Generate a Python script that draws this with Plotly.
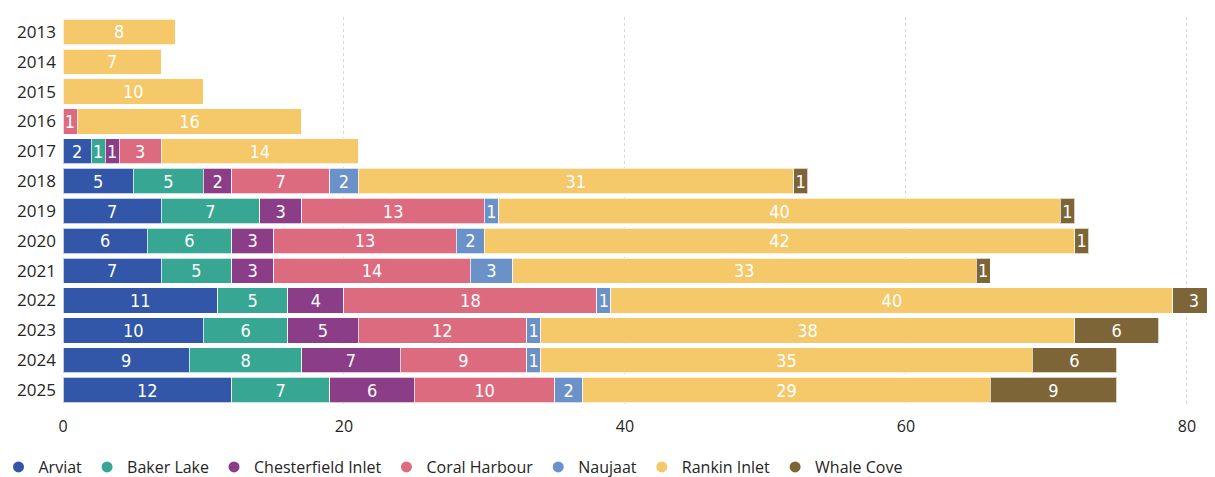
import plotly.graph_objects as go

years = ["2013", "2014", "2015", "2016", "2017", "2018", "2019", "2020", "2021", "2022", "2023", "2024", "2025"]
communities = ["Arviat", "Baker Lake", "Chesterfield Inlet", "Coral Harbour", "Naujaat", "Rankin Inlet", "Whale Cove"]
arviat       = [0, 0, 0, 0, 2, 5, 7, 6, 7, 11, 10, 9, 12]
baker_lake   = [0, 0, 0, 0, 1, 5, 7, 6, 5, 5, 6, 8, 7]
chesterfield = [0, 0, 0, 0, 1, 2, 3, 3, 3, 4, 5, 7, 6]
coral        = [0, 0, 0, 1, 3, 7, 13, 13, 14, 18, 12, 9, 10]
naujaat      = [0, 0, 0, 0, 0, 2, 1, 2, 3, 1, 1, 1, 2]
rankin       = [8, 7, 10, 16, 14, 31, 40, 42, 33, 40, 38, 35, 29]
whale_cove   = [0, 0, 0, 0, 0, 1, 1, 1, 1, 3, 6, 6, 9]
x_ticks = [0, 20, 40, 60, 80]

series = [arviat, baker_lake, chesterfield, coral, naujaat, rankin, whale_cove]
colors = ["#3256A8", "#37A794", "#8B3D88", "#DD6B7F", "#6B91C9", "#F5C869", "#7D6538"]

fig = go.Figure()
for name, vals, col in zip(communities, series, colors):
    fig.add_trace(go.Bar(
        y=years, x=vals, orientation="h", name=name,
        marker=dict(color=col, line=dict(color="rgba(255,255,255,0.7)", width=1)),
        text=[str(v) if v else "" for v in vals],
        textposition="inside", insidetextanchor="middle", textangle=0,
        textfont=dict(color="white", size=18, family="DejaVu Sans Condensed, DejaVu Sans"),
        cliponaxis=False,
        showlegend=False, hoverinfo="x+y+name",
    ))
    fig.add_trace(go.Scatter(
        x=[None], y=[None], mode="markers", name=name,
        marker=dict(color=col, size=11, symbol="circle"),
        showlegend=True,
    ))

# the page body has an 8px margin, so the figure is sized to fill the rest of the window
fig.update_layout(
    barmode="stack", bargap=0.15,
    width=1207, height=469,
    margin=dict(l=55, r=0, t=9, b=72, autoexpand=False),
    paper_bgcolor="white", plot_bgcolor="white",
    font=dict(family="Open Sans, Noto Sans, sans-serif", color="#252423", size=16),
    uniformtext=dict(minsize=18, mode="show"),
    legend=dict(orientation="h", x=-0.056, xref="paper", y=-0.16, yref="paper",
                xanchor="left", yanchor="middle", font=dict(size=16),
                itemwidth=30, tracegroupgap=0, traceorder="normal",
                bgcolor="rgba(0,0,0,0)"),
    xaxis=dict(range=[0, 82], tickvals=x_ticks, showgrid=True,
               gridcolor="#D9D9D9", griddash="dot", gridwidth=1,
               zeroline=False, showline=False, ticks="", automargin=False,
               ticklabelstandoff=10, tickfont=dict(size=16)),
    yaxis=dict(autorange="reversed", type="category", showgrid=False,
               ticks="", ticklabelstandoff=6, automargin=False,
               tickfont=dict(size=17)),
)

fig.write_html("out.html")
